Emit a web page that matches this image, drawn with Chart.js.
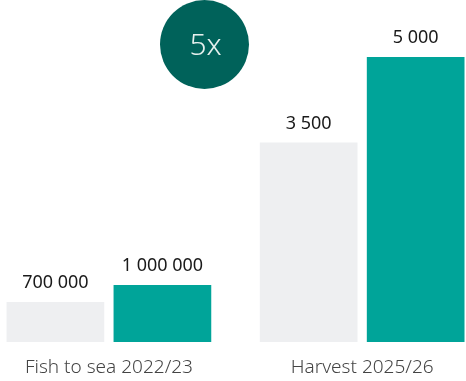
<!DOCTYPE html>
<html>
<head>
<meta charset="utf-8">
<script src="https://cdn.jsdelivr.net/npm/chart.js@4/dist/chart.umd.min.js"></script>
<style>
  html, body { margin: 0; padding: 0; background: #fff; }
  #wrap { width: 466px; height: 381px; position: relative; }
</style>
</head>
<body>
<div id="wrap"><canvas id="growthChart"></canvas></div>
<script>
// groups along the x axis, each with its own value scale
const groups = ['Fish to sea 2022/23', 'Harvest 2025/26'];
const current = [700000, 3500];   // grey bars
const target = [1000000, 5000];   // teal bars
const scaleMax = [6000000, 6000];
const badgeText = '5x';

const GREY = '#eeeff1';
const TEAL = '#00a499';
const DARK_TEAL = '#00625a';

// thousands with a space: 1000000 -> "1 000 000"
function fmt(v) {
  return String(v).replace(/\B(?=(\d{3})+(?!\d))/g, ' ');
}

// one dataset per bar, null in the other group so skipNull centres the pair
const datasets = [];
groups.forEach((_, g) => {
  const axis = g === 0 ? 'y' : 'y2';
  [[current, GREY], [target, TEAL]].forEach(([vals, color]) => {
    datasets.push({
      data: groups.map((__, i) => ({ x: i, y: i === g ? vals[g] : null })),
      backgroundColor: color,
      yAxisID: axis,
      categoryPercentage: 0.845,
      barPercentage: 0.913
    });
  });
});

const valueLabels = {
  id: 'valueLabels',
  afterDatasetsDraw(chart) {
    const ctx = chart.ctx;
    ctx.save();
    ctx.font = '18px "Noto Sans"';
    ctx.fillStyle = '#1a1a1a';
    ctx.textAlign = 'center';
    ctx.textBaseline = 'alphabetic';
    chart.data.datasets.forEach((ds, di) => {
      const meta = chart.getDatasetMeta(di);
      meta.data.forEach((bar, i) => {
        const v = ds.data[i].y;
        if (v == null) return;
        ctx.fillText(fmt(v), bar.x, bar.y - 14);
      });
    });
    ctx.restore();
  }
};

// round badge with the growth multiple
const badge = {
  id: 'badge',
  afterDraw(chart) {
    const ctx = chart.ctx;
    ctx.save();
    ctx.beginPath();
    ctx.arc(204.5, 44.5, 44.5, 0, Math.PI * 2);
    ctx.fillStyle = DARK_TEAL;
    ctx.fill();
    ctx.font = '300 30px "Noto Sans"';
    ctx.fillStyle = '#e6f0ee';
    ctx.textAlign = 'center';
    ctx.textBaseline = 'alphabetic';
    ctx.fillText(badgeText, 205.5, 55);
    ctx.restore();
  }
};

new Chart(document.getElementById('growthChart'), {
  type: 'bar',
  data: { datasets },
  plugins: [valueLabels, badge],
  options: {
    responsive: true,
    maintainAspectRatio: false,
    animation: false,
    layout: { padding: 0 },
    plugins: { legend: { display: false }, tooltip: { enabled: false } },
    datasets: { bar: { skipNull: true } },
    scales: {
      x: {
        type: 'linear',
        offset: false,
        min: -0.43,
        max: 1.41,
        grid: { display: false, drawTicks: false, offset: false },
        border: { display: false },
        afterBuildTicks(scale) {
          scale.ticks = groups.map((_, i) => ({ value: i }));
        },
        afterFit(scale) { scale.height = 39; },
        ticks: {
          padding: 14.6,
          color: '#444444',
          font: { family: 'Noto Sans', size: 19, weight: '300' },
          callback: (v) => groups[v]
        }
      },
      y: { display: false, min: 0, max: scaleMax[0] },
      y2: { display: false, min: 0, max: scaleMax[1] }
    }
  }
});
</script>
</body>
</html>
